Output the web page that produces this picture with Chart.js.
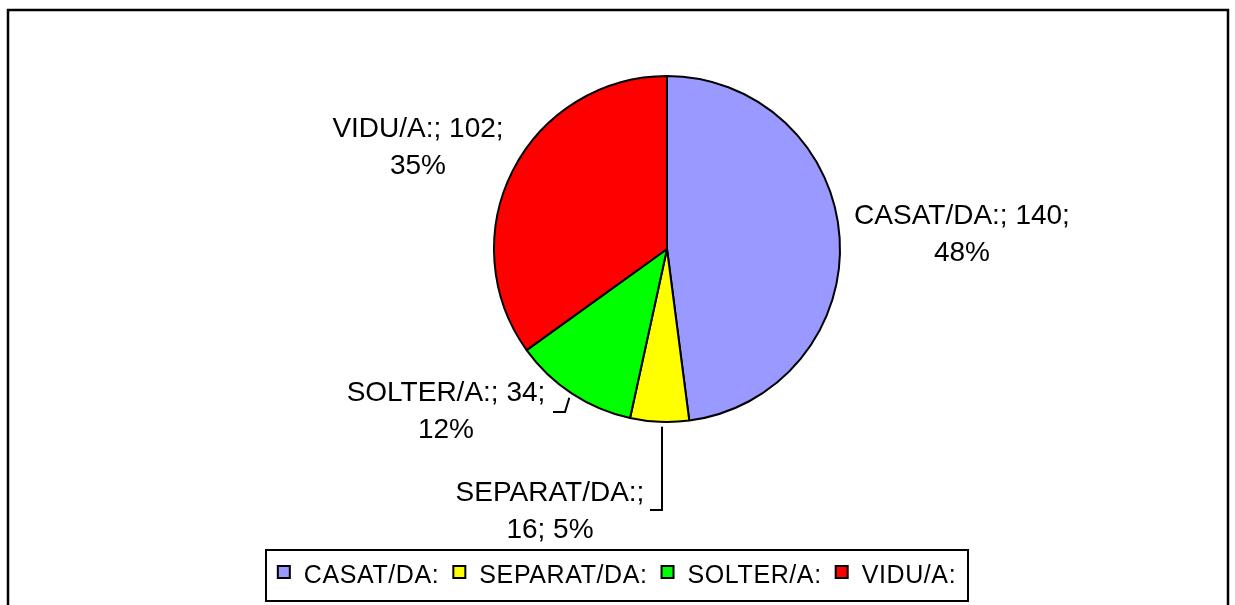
<!DOCTYPE html>
<html>
<head>
<meta charset="utf-8">
<script src="https://cdn.jsdelivr.net/npm/chart.js@4.4.1/dist/chart.umd.min.js"></script>
<style>
  html, body { margin: 0; padding: 0; background: #fff; }
  #wrap { width: 1235px; height: 605px; position: relative; }
</style>
</head>
<body>
<div id="wrap"><canvas id="estatCivil" width="1235" height="605"></canvas></div>
<script>
// categories and values
const categories = ['CASAT/DA:', 'SEPARAT/DA:', 'SOLTER/A:', 'VIDU/A:'];
const counts = [140, 16, 34, 102];
const sliceColors = ['#9999FF', '#FFFF00', '#00FF00', '#FF0000'];

// where each data label sits (centre x, first baseline) and how many parts on line 1
const labelSpots = [
  { x: 962, y: 224, firstLine: 2 },
  { x: 550, y: 501, firstLine: 1 },
  { x: 446, y: 401, firstLine: 2 },
  { x: 418, y: 137, firstLine: 2 }
];
// leader lines: elbow + end point, null = no leader
// straight = drop vertically from the slice edge at elbowX
const leaders = [
  null,
  { elbowX: 662, elbowY: 510, endX: 650, straight: true },
  { elbowX: 565, elbowY: 412, endX: 553 },
  null
];

const total = counts.reduce((a, b) => a + b, 0);
const LABEL_FONT = '28px "Liberation Sans", Arial, sans-serif';
const LEGEND_FONT = '25px "Liberation Sans", Arial, sans-serif';

// outer frame around the whole chart
const framePlugin = {
  id: 'frame',
  beforeDraw(chart) {
    const ctx = chart.ctx;
    ctx.save();
    ctx.fillStyle = '#fff';
    ctx.fillRect(0, 0, chart.width, chart.height);
    ctx.strokeStyle = '#000';
    ctx.lineWidth = 2.5;
    ctx.strokeRect(8, 10, 1220, 620);
    ctx.restore();
  }
};

// data labels "name; value; pct%" next to the slices
const sliceLabels = {
  id: 'sliceLabels',
  afterDatasetsDraw(chart) {
    const ctx = chart.ctx;
    const arcs = chart.getDatasetMeta(0).data;
    ctx.save();
    ctx.font = LABEL_FONT;
    ctx.fillStyle = '#000';
    ctx.textAlign = 'center';
    ctx.textBaseline = 'alphabetic';
    arcs.forEach((arc, i) => {
      const pct = Math.round(counts[i] / total * 100) + '%';
      const parts = [categories[i], String(counts[i]), pct];
      const spot = labelSpots[i];
      const line1 = parts.slice(0, spot.firstLine).join('; ') + ';';
      const line2 = parts.slice(spot.firstLine).join('; ');
      ctx.fillText(line1, spot.x, spot.y);
      ctx.fillText(line2, spot.x, spot.y + 37);

      const lead = leaders[i];
      if (lead) {
        const p = arc.getProps(['x', 'y', 'startAngle', 'endAngle', 'outerRadius'], true);
        const mid = (p.startAngle + p.endAngle) / 2;
        const sx = lead.straight ? lead.elbowX : p.x + Math.cos(mid) * (p.outerRadius + 5);
        const sy = p.y + Math.sin(mid) * (p.outerRadius + 5);
        ctx.beginPath();
        ctx.lineWidth = 2;
        ctx.strokeStyle = '#000';
        ctx.moveTo(sx, sy);
        ctx.lineTo(lead.elbowX, lead.elbowY);
        ctx.lineTo(lead.endX, lead.elbowY);
        ctx.stroke();
      }
    });
    ctx.restore();
  }
};

// boxed legend along the bottom
const boxLegend = {
  id: 'boxLegend',
  afterDraw(chart) {
    const ctx = chart.ctx;
    const box = { left: 266, top: 550, right: 968, bottom: 601 };
    ctx.save();
    ctx.fillStyle = '#fff';
    ctx.fillRect(box.left, box.top, box.right - box.left, box.bottom - box.top);
    ctx.strokeStyle = '#000';
    ctx.lineWidth = 2;
    ctx.strokeRect(box.left, box.top, box.right - box.left, box.bottom - box.top);

    ctx.font = LEGEND_FONT;
    ctx.letterSpacing = '0.6px';
    ctx.textBaseline = 'alphabetic';
    ctx.textAlign = 'left';
    const sq = 12, gapText = 14, gapItem = 14;
    const widths = categories.map(c => ctx.measureText(c).width);
    let totalW = 0;
    widths.forEach((w, i) => { totalW += sq + gapText + w + (i < widths.length - 1 ? gapItem : 0); });
    let x = (box.left + box.right) / 2 - totalW / 2;
    categories.forEach((c, i) => {
      ctx.fillStyle = chart.data.datasets[0].backgroundColor[i];
      ctx.fillRect(x, 566, sq, sq);
      ctx.lineWidth = 2;
      ctx.strokeRect(x, 566, sq, sq);
      ctx.fillStyle = '#000';
      ctx.fillText(c, x + sq + gapText, 583);
      x += sq + gapText + widths[i] + gapItem;
    });
    ctx.restore();
  }
};

new Chart(document.getElementById('estatCivil'), {
  type: 'pie',
  data: {
    labels: categories,
    datasets: [{
      data: counts,
      backgroundColor: sliceColors,
      borderColor: '#000',
      borderWidth: 2,
      hoverBorderWidth: 2,
      offset: 0,
      hoverOffset: 0,
      radius: 173
    }]
  },
  options: {
    responsive: false,
    animation: false,
    events: [],
    layout: { padding: { top: 76, bottom: 183, left: 300, right: 201 } },
    plugins: {
      legend: { display: false },
      tooltip: { enabled: false }
    }
  },
  plugins: [framePlugin, sliceLabels, boxLegend]
});
</script>
</body>
</html>
